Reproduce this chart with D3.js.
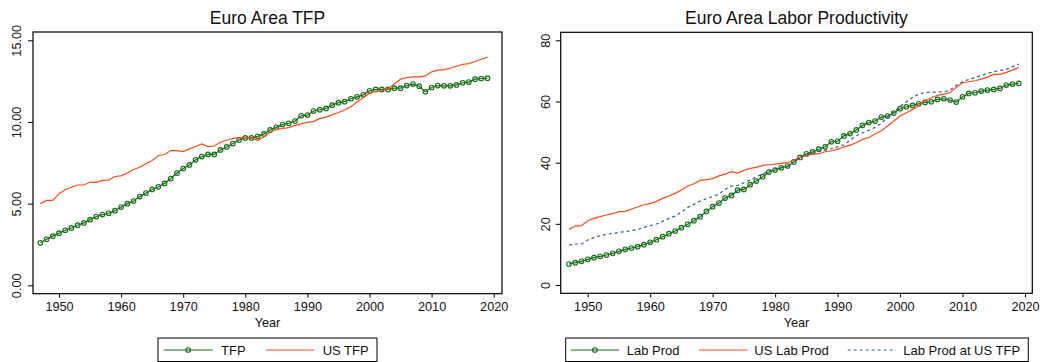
<!DOCTYPE html>
<html>
<head>
<meta charset="utf-8">
<script src="https://cdn.jsdelivr.net/npm/d3@7"></script>
<style>
  body { margin: 0; background: #fff; }
  svg { display: block; font-family: "Liberation Sans", Arial, sans-serif; }
</style>
</head>
<body>
<svg id="chart" width="1048" height="362"></svg>
<script>
// years shown on both panels
const years = d3.range(1947, 2020);
const xTicks = [1950, 1960, 1970, 1980, 1990, 2000, 2010, 2020];

// left panel: TFP
const tfpTicks = [0, 5, 10, 15];
const tfp = [2.60, 2.82, 3.01, 3.19, 3.37, 3.51, 3.68, 3.82, 4.02, 4.21, 4.33, 4.41, 4.57, 4.79, 5.00, 5.16,
  5.43, 5.65, 5.87, 6.03, 6.24, 6.54, 6.87, 7.15, 7.37, 7.68, 7.88, 8.01, 8.01, 8.29, 8.47, 8.68,
  8.90, 9.02, 9.02, 9.12, 9.27, 9.51, 9.67, 9.84, 9.92, 10.06, 10.38, 10.42, 10.67, 10.75, 10.83, 11.03,
  11.18, 11.24, 11.42, 11.54, 11.66, 11.91, 11.99, 11.99, 11.99, 12.07, 12.07, 12.23, 12.32, 12.19, 11.85, 12.11,
  12.23, 12.21, 12.21, 12.27, 12.40, 12.44, 12.62, 12.66, 12.68];
const usTfp = [5.00, 5.20, 5.20, 5.60, 5.85, 6.00, 6.14, 6.14, 6.32, 6.30, 6.42, 6.44, 6.66, 6.70, 6.87, 7.09,
  7.23, 7.44, 7.64, 7.93, 8.01, 8.25, 8.25, 8.19, 8.35, 8.50, 8.66, 8.49, 8.53, 8.76, 8.88, 9.00,
  9.02, 9.02, 9.02, 8.86, 9.10, 9.37, 9.55, 9.60, 9.65, 9.79, 9.88, 9.98, 10.02, 10.22, 10.28, 10.45,
  10.58, 10.73, 10.93, 11.22, 11.50, 11.75, 11.87, 11.91, 12.05, 12.32, 12.62, 12.72, 12.76, 12.76, 12.82, 13.07,
  13.17, 13.21, 13.29, 13.41, 13.53, 13.57, 13.70, 13.84, 13.98];

// right panel: labor productivity
const lpTicks = [0, 20, 40, 60, 80];
const labProd = [6.86, 7.30, 7.73, 8.39, 8.93, 9.37, 9.80, 10.35, 11.00, 11.66, 12.09, 12.53, 13.18, 13.94, 14.81, 15.79,
  16.77, 17.65, 18.74, 19.83, 21.02, 22.33, 24.07, 25.60, 26.80, 28.43, 29.30, 31.00, 31.26, 32.79, 33.99, 35.40,
  36.93, 37.58, 38.30, 38.90, 40.25, 41.72, 42.90, 43.50, 44.40, 45.20, 46.84, 47.00, 48.75, 49.50, 50.70, 52.20,
  53.10, 53.60, 54.90, 55.25, 56.20, 57.63, 58.28, 58.72, 59.26, 59.70, 59.91, 60.68, 60.89, 60.46, 59.80, 61.55,
  62.64, 62.85, 63.40, 63.73, 63.94, 64.27, 65.36, 65.69, 65.90];
const usLabProd = [18.19, 19.28, 19.39, 21.02, 21.79, 22.33, 22.88, 23.31, 23.96, 24.07, 24.84, 25.49, 26.25, 26.58, 27.34, 28.32,
  29.08, 29.96, 31.05, 32.35, 33.11, 34.21, 34.42, 34.80, 35.68, 36.27, 37.04, 36.60, 37.47, 38.13, 38.45, 39.11,
  39.32, 39.54, 39.76, 39.98, 40.85, 41.72, 42.37, 42.81, 42.92, 43.57, 43.90, 44.34, 45.10, 45.75, 46.51, 47.60,
  48.20, 49.35, 50.44, 51.96, 53.59, 55.23, 56.32, 57.41, 58.72, 60.24, 61.22, 61.98, 62.42, 62.85, 64.60, 66.12,
  66.45, 66.78, 67.32, 67.97, 68.85, 68.85, 69.50, 70.26, 71.13];
const labProdUsTfp = [13.07, 13.40, 13.40, 14.71, 15.47, 16.12, 16.56, 16.88, 17.21, 17.43, 17.76, 18.19, 18.85, 19.39, 19.93, 20.81,
  21.79, 22.55, 23.86, 25.38, 26.36, 27.45, 28.21, 28.90, 29.70, 31.26, 32.35, 32.57, 33.44, 34.31, 35.40, 36.27,
  37.36, 38.02, 38.45, 38.67, 40.30, 41.72, 42.48, 43.03, 43.79, 44.12, 44.55, 45.21, 45.75, 47.39, 48.80, 49.78,
  50.60, 51.53, 52.83, 55.01, 56.64, 58.28, 59.91, 61.33, 62.42, 62.96, 63.07, 63.07, 63.18, 63.73, 65.25, 66.45,
  67.21, 67.76, 68.52, 69.17, 69.72, 70.15, 70.48, 71.35, 72.22];

const GREEN = "#146c14", ORANGE = "#ff4a14", NAVY = "#2d5a88";

const svg = d3.select("#chart");

function panel(opts) {
  const g = svg.append("g");
  const { box } = opts;
  const x = d3.scaleLinear().domain([1950, 2020]).range(opts.xRange);
  const y = d3.scaleLinear().domain(opts.yDomain).range(opts.yRange);

  // title
  g.append("text")
    .attr("x", (box.x0 + box.x1) / 2).attr("y", 24)
    .attr("text-anchor", "middle").attr("font-size", 17.5).attr("fill", "#111")
    .text(opts.title);

  // y axis with rotated labels
  const ya = g.append("g").attr("transform", `translate(${box.x0},0)`)
    .call(d3.axisLeft(y).tickValues(opts.yTicks).tickSize(5).tickFormat(opts.yFormat));
  ya.select(".domain").remove();
  ya.selectAll("line").attr("stroke", "#000");
  ya.selectAll("text")
    .attr("transform", "rotate(-90)")
    .attr("x", 0).attr("y", opts.yLabelOff).attr("dy", "0.35em")
    .attr("text-anchor", "middle").attr("font-size", 12.7).attr("fill", "#111");

  // x axis
  const xa = g.append("g").attr("transform", `translate(0,${box.y1})`)
    .call(d3.axisBottom(x).tickValues(xTicks).tickSize(4).tickPadding(4.5).tickFormat(d3.format("d")));
  xa.select(".domain").remove();
  xa.selectAll("line").attr("stroke", "#000");
  xa.selectAll("text").attr("font-size", 12.7).attr("fill", "#111");

  g.append("text")
    .attr("x", (box.x0 + box.x1) / 2).attr("y", 327)
    .attr("text-anchor", "middle").attr("font-size", 12.7).attr("fill", "#111")
    .text("Year");

  // series
  const line = d3.line().x((d, i) => x(years[i])).y(d => y(d));
  opts.series.forEach(s => {
    g.append("path").datum(s.values)
      .attr("d", line).attr("fill", "none")
      .attr("stroke", s.color).attr("stroke-width", 1.2)
      .attr("stroke-dasharray", s.dash || null);
    if (s.marker) {
      g.append("g").selectAll("circle").data(s.values).join("circle")
        .attr("cx", (d, i) => x(years[i])).attr("cy", d => y(d)).attr("r", 2.3)
        .attr("fill", "none").attr("stroke", s.color).attr("stroke-width", 1.1);
    }
  });

  // plot box
  g.append("rect")
    .attr("x", box.x0).attr("y", box.y0)
    .attr("width", box.x1 - box.x0).attr("height", box.y1 - box.y0)
    .attr("fill", "none").attr("stroke", "#000").attr("stroke-width", 1.2);

  // legend
  const lg = opts.legend;
  g.append("rect")
    .attr("x", lg.x0).attr("y", 338).attr("width", lg.x1 - lg.x0).attr("height", 23.5)
    .attr("fill", "#fff").attr("stroke", "#000").attr("stroke-width", 1);
  opts.series.forEach((s, k) => {
    const it = lg.items[k];
    g.append("line")
      .attr("x1", it.l0).attr("x2", it.l1).attr("y1", 350).attr("y2", 350)
      .attr("stroke", s.color).attr("stroke-width", 1.2)
      .attr("stroke-dasharray", s.dash || null);
    if (s.marker) {
      g.append("circle").attr("cx", (it.l0 + it.l1) / 2).attr("cy", 350).attr("r", 2.3)
        .attr("fill", "none").attr("stroke", s.color).attr("stroke-width", 1.1);
    }
    g.append("text")
      .attr("x", it.t).attr("y", 354.5)
      .attr("font-size", 13).attr("fill", "#111")
      .text(s.name);
  });
}

panel({
  title: "Euro Area TFP",
  box: { x0: 33, x1: 502, y0: 32, y1: 293.7 },
  xRange: [59, 493.7],
  yDomain: [0, 15], yRange: [285.3, 40.3],
  yTicks: tfpTicks, yFormat: d3.format(".2f"), yLabelOff: -16,
  series: [
    { name: "TFP", values: tfp, color: GREEN, marker: true },
    { name: "US TFP", values: usTfp, color: ORANGE }
  ],
  legend: {
    x0: 158, x1: 377,
    items: [{ l0: 163.7, l1: 212.7, t: 221 }, { l0: 265.7, l1: 314.3, t: 322.7 }]
  }
});

panel({
  title: "Euro Area Labor Productivity",
  box: { x0: 560.7, x1: 1032.3, y0: 32.3, y1: 293.3 },
  xRange: [587.7, 1025],
  yDomain: [0, 80], yRange: [285, 40.3],
  yTicks: lpTicks, yFormat: d3.format("d"), yLabelOff: -15,
  series: [
    { name: "Lab Prod", values: labProd, color: GREEN, marker: true },
    { name: "US Lab Prod", values: usLabProd, color: ORANGE },
    { name: "Lab Prod at US TFP", values: labProdUsTfp, color: NAVY, dash: "3,3" }
  ],
  legend: {
    x0: 565.7, x1: 1028.3,
    items: [{ l0: 570.7, l1: 619, t: 626.7 }, { l0: 699, l1: 747.7, t: 754.3 }, { l0: 847.7, l1: 896, t: 903.3 }]
  }
});
</script>
</body>
</html>
